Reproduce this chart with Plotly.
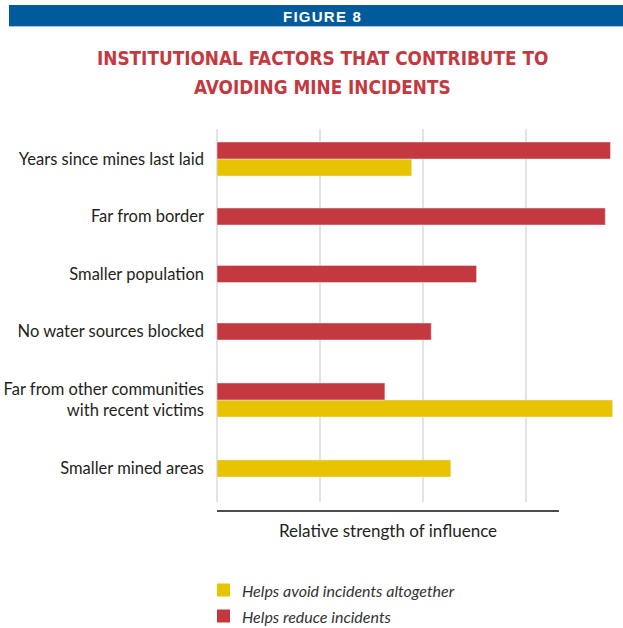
import plotly.graph_objects as go

# ---- data -------------------------------------------------------------
factors = [
    "Years since mines last laid",
    "Far from border",
    "Smaller population",
    "No water sources blocked",
    "Far from other communities<br>with recent victims",
    "Smaller mined areas",
]
reduce_incidents = [3.82, 3.77, 2.52, 2.08, 1.63, None]
avoid_altogether = [1.89, None, None, None, 3.84, 2.27]

series_names = ["Helps avoid incidents altogether", "Helps reduce incidents"]
title_lines = ["INSTITUTIONAL FACTORS THAT CONTRIBUTE TO", "AVOIDING MINE INCIDENTS"]
figure_label = "FIGURE 8"
axis_title = "Relative strength of influence"

# ---- styling ----------------------------------------------------------
RED = "#c4393f"
YELLOW = "#e8c400"
BLUE = "#005b9c"
TEXT = "#231f20"
GRID = "#e3e3e3"
BODY_FONT = "Lato, 'Open Sans', sans-serif"
TITLE_FONT = "'DejaVu Sans Condensed', 'Liberation Sans Narrow', sans-serif"

W, H = 623, 628
ML, MR, MT, MB = 217, 0, 129, 126
PW, PH = W - ML - MR, H - MT - MB


def px_x(px):
    return (px - ML) / PW


def px_y(py):
    return 1 - (py - MT) / PH


# row centres (in plot pixels from the top); rows next to a two-line
# label get a little more breathing room
BAR_H = 17
STEP = 57.5
EXTRA = 11
two_line = ["<br>" in f for f in factors]
rows = [30.0]
for i in range(1, len(factors)):
    rows.append(rows[-1] + STEP + (EXTRA if (two_line[i] or two_line[i - 1]) else 0))


def offsets(own, other, first):
    out = []
    for a, b in zip(own, other):
        if b is None:
            out.append(-BAR_H / 2)
        else:
            out.append(-BAR_H if first else 0)
    return out


colors = [YELLOW, RED]
fig = go.Figure()
fig.add_trace(go.Bar(
    name=series_names[0], orientation="h",
    y=rows, x=avoid_altogether, marker_color=colors[0],
    width=BAR_H, offset=offsets(avoid_altogether, reduce_incidents, False),
))
fig.add_trace(go.Bar(
    name=series_names[1], orientation="h",
    y=rows, x=reduce_incidents, marker_color=colors[1],
    width=BAR_H, offset=offsets(reduce_incidents, avoid_altogether, True),
))

# axis line under the grid, shorter than the plot area
axis_end = 3.32
shapes = [
    dict(type="rect", xref="paper", yref="paper",
         x0=px_x(9), x1=px_x(W), y0=px_y(26), y1=px_y(5),
         fillcolor=BLUE, line_width=0, layer="above"),
    dict(type="line", xref="paper", yref="paper",
         x0=px_x(9), x1=px_x(W), y0=px_y(26.5), y1=px_y(26.5),
         line=dict(color="#a9c4de", width=1)),
    dict(type="line", xref="x", yref="paper",
         x0=0, x1=axis_end, y0=px_y(511), y1=px_y(511),
         line=dict(color="#111111", width=1.5)),
]

annotations = [
    dict(text="<b>" + "\u200a".join(figure_label) + "</b>",
         xref="paper", yref="paper", x=px_x(321.5), y=px_y(16),
         showarrow=False, xanchor="center", yanchor="middle",
         font=dict(family="'Liberation Sans', Arial, sans-serif", size=15, color="white")),
    dict(text="<b>" + title_lines[0] + "</b>",
         xref="paper", yref="paper", x=px_x(322), y=px_y(58.5),
         showarrow=False, xanchor="center", yanchor="middle",
         font=dict(family=TITLE_FONT, size=18.8, color=RED)),
    dict(text="<b>" + title_lines[1] + "</b>",
         xref="paper", yref="paper", x=px_x(322), y=px_y(87.5),
         showarrow=False, xanchor="center", yanchor="middle",
         font=dict(family=TITLE_FONT, size=18.8, color=RED)),
    dict(text=axis_title, xref="x", yref="paper", x=axis_end / 2, y=px_y(530),
         showarrow=False, xanchor="center", yanchor="middle",
         font=dict(family=BODY_FONT, size=17, color=TEXT)),
]

# legend: colour swatches with italic labels below the axis title
LEG_ROWS = [590, 616]
SW = 13
for name, col, cy in zip(series_names, colors, LEG_ROWS):
    shapes.append(dict(type="rect", xref="paper", yref="paper",
                       x0=px_x(217), x1=px_x(217 + SW),
                       y0=px_y(cy + SW / 2), y1=px_y(cy - SW / 2),
                       fillcolor=col, line_width=0))
    annotations.append(dict(text="<i>" + name + "</i>", xref="paper", yref="paper",
                            x=px_x(240), y=px_y(cy), showarrow=False,
                            xanchor="left", yanchor="middle",
                            font=dict(family=BODY_FONT, size=16, color="#333333")))

fig.update_layout(
    width=W, height=H,
    margin=dict(l=ML, r=MR, t=MT, b=MB, pad=0),
    paper_bgcolor="white", plot_bgcolor="white",
    barmode="overlay",
    shapes=shapes, annotations=annotations,
    showlegend=False,
    xaxis=dict(
        range=[0, PW / 103], dtick=1, tick0=0, showticklabels=False,
        showgrid=True, gridcolor=GRID, gridwidth=2,
        zeroline=True, zerolinecolor=GRID, zerolinewidth=2,
        showline=False, fixedrange=True,
    ),
    yaxis=dict(
        range=[PH, 0], tickvals=rows, ticktext=factors,
        showgrid=False, zeroline=False, showline=False, ticks="",
        ticklabelstandoff=12, automargin=False,
        tickfont=dict(family=BODY_FONT, size=16.5, color=TEXT),
        fixedrange=True,
    ),
)

fig.write_html("out.html")
